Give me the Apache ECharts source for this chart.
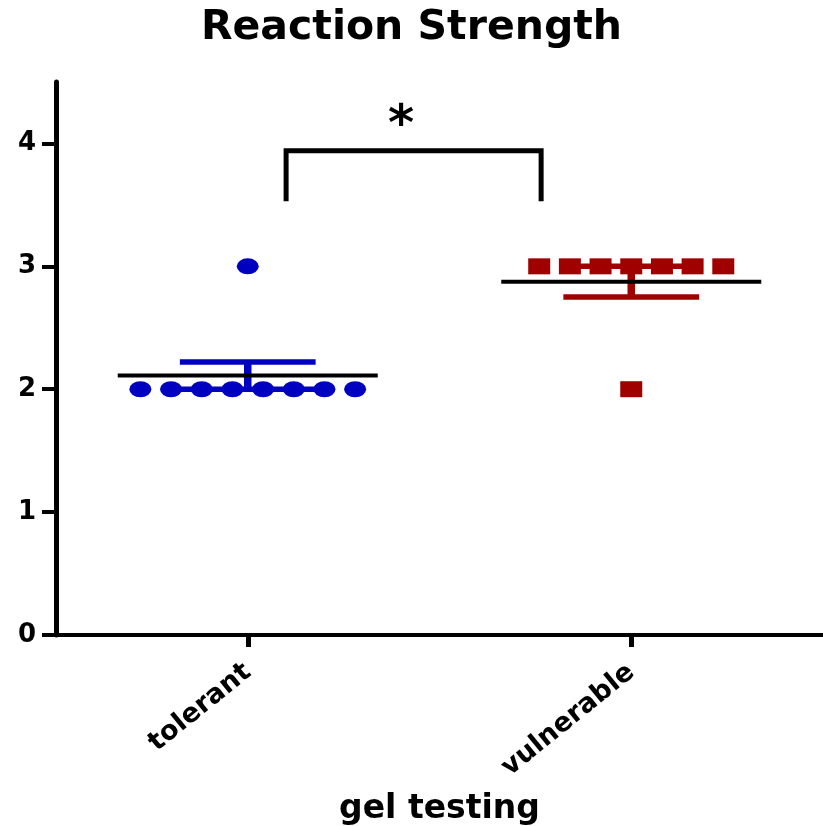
<!DOCTYPE html>
<html><head><meta charset="utf-8">
<script src="https://cdn.jsdelivr.net/npm/echarts@6/dist/echarts.min.js"></script>
<style>html,body{margin:0;padding:0;background:#fff}#c{width:823px;height:826px}</style>
</head><body><div id="c"></div>
<script>
const titleText = 'Reaction Strength';
const xAxisTitle = 'gel testing';
const categories = ['tolerant', 'vulnerable'];
const yTicks = [0, 1, 2, 3, 4];
const tolerantValues = [2, 2, 2, 2, 2, 2, 2, 2, 3];
const tolerantOffsets = [-0.28, -0.2, -0.12, -0.04, 0.04, 0.12, 0.2, 0.28, 0];
const vulnerableValues = [3, 3, 3, 3, 3, 3, 3, 2];
const vulnerableOffsets = [-0.24, -0.16, -0.08, 0, 0.08, 0.16, 0.24, 0];
const bracketX = [0.1, 0.765];
const bracketY = [3.55, 3.94];
const significanceLabel = '*';
const significancePos = [0.4, 4.13];

const FONT = "'DejaVu Sans', 'Liberation Sans', Arial, sans-serif";
const BLUE = '#0000c0';
const RED = '#a00000';

function stats(v) {
  const n = v.length;
  const m = v.reduce((a, b) => a + b, 0) / n;
  const sd = Math.sqrt(v.reduce((a, b) => a + (b - m) * (b - m), 0) / (n - 1));
  return { mean: m, sem: sd / Math.sqrt(n) };
}
const groups = [tolerantValues, vulnerableValues].map(stats);

function errorBarRender(color) {
  return function (params, api) {
    const c = api.value(0), lo = api.value(2), hi = api.value(3);
    const capHalf = 0.177;
    const a = api.coord([c - capHalf, hi]), b = api.coord([c + capHalf, hi]);
    const d = api.coord([c - capHalf, lo]), e = api.coord([c + capHalf, lo]);
    const s1 = api.coord([c, lo]), s2 = api.coord([c, hi]);
    return { type: 'group', children: [
      { type: 'line', shape: { x1: a[0], y1: a[1], x2: b[0], y2: b[1] }, style: { stroke: color, lineWidth: 5.5 } },
      { type: 'line', shape: { x1: d[0], y1: d[1], x2: e[0], y2: e[1] }, style: { stroke: color, lineWidth: 5.5 } },
      { type: 'line', shape: { x1: s1[0], y1: s1[1], x2: s2[0], y2: s2[1] }, style: { stroke: color, lineWidth: 7.5 } }
    ]};
  };
}
function meanRender(params, api) {
  const c = api.value(0), m = api.value(1);
  const half = 0.339;
  const a = api.coord([c - half, m]), b = api.coord([c + half, m]);
  return { type: 'line', shape: { x1: a[0], y1: a[1], x2: b[0], y2: b[1] }, style: { stroke: '#000', lineWidth: 4 } };
}

const chart = echarts.init(document.getElementById('c'), null, { renderer: 'canvas' });
chart.setOption({
  backgroundColor: '#fff',
  animation: false,
  title: {
    text: titleText, left: 'center', top: 3,
    textStyle: { fontFamily: FONT, fontWeight: 'bold', fontSize: 41, color: '#000' }
  },
  grid: { left: 56, right: 0, top: 82, bottom: 191, containLabel: false, outerBoundsMode: 'none' },
  xAxis: [
    {
      type: 'category', data: categories,
      axisLine: { lineStyle: { color: '#000', width: 4 } },
      axisTick: { show: true, alignWithLabel: true, length: 12, lineStyle: { color: '#000', width: 5 } },
      axisLabel: { rotate: 39, fontFamily: FONT, fontWeight: 'bold', fontSize: 27, color: '#000', margin: 34 },
      splitLine: { show: false },
      name: xAxisTitle, nameLocation: 'middle', nameGap: 158,
      nameTextStyle: { fontFamily: FONT, fontWeight: 'bold', fontSize: 33, color: '#000' }
    },
    { type: 'value', min: -0.5, max: 1.5, show: false }
  ],
  yAxis: {
    type: 'value', min: 0, max: 4.5, interval: 1,
    axisLine: { show: true, onZero: false, lineStyle: { color: '#000', width: 5 } },
    axisTick: { show: true, length: 14, customValues: yTicks, lineStyle: { color: '#000', width: 4 } },
    axisLabel: { customValues: yTicks, fontFamily: FONT, fontWeight: 'bold', fontSize: 26, color: '#000', margin: 20 },
    splitLine: { show: false }
  },
  series: [
    {
      type: 'custom', xAxisIndex: 1, z: 2, renderItem: errorBarRender(BLUE),
      data: [[0, groups[0].mean, groups[0].mean - groups[0].sem, groups[0].mean + groups[0].sem]]
    },
    {
      type: 'custom', xAxisIndex: 1, z: 2, renderItem: errorBarRender(RED),
      data: [[1, groups[1].mean, groups[1].mean - groups[1].sem, groups[1].mean + groups[1].sem]]
    },
    {
      type: 'scatter', xAxisIndex: 1, z: 3, symbol: 'circle', symbolSize: [22, 16],
      itemStyle: { color: BLUE, opacity: 1 },
      data: tolerantValues.map((v, i) => [0 + tolerantOffsets[i], v])
    },
    {
      type: 'scatter', xAxisIndex: 1, z: 3, symbol: 'rect', symbolSize: [22, 16],
      itemStyle: { color: RED, opacity: 1 },
      data: vulnerableValues.map((v, i) => [1 + vulnerableOffsets[i], v])
    },
    {
      type: 'custom', xAxisIndex: 1, z: 4, renderItem: meanRender,
      data: groups.map((g, i) => [i, g.mean])
    },
    {
      type: 'line', xAxisIndex: 1, z: 4, symbol: 'none',
      lineStyle: { color: '#000', width: 5, cap: 'square', join: 'miter' },
      data: [[bracketX[0], bracketY[0]], [bracketX[0], bracketY[1]], [bracketX[1], bracketY[1]], [bracketX[1], bracketY[0]]]
    },
    {
      type: 'scatter', xAxisIndex: 1, z: 5, symbolSize: 0,
      itemStyle: { color: '#000', opacity: 1 },
      label: { show: true, position: 'inside', formatter: significanceLabel, fontFamily: FONT, fontWeight: 'bold', fontSize: 50, color: '#000', opacity: 1 },
      data: [significancePos]
    }
  ]
});
</script></body></html>
